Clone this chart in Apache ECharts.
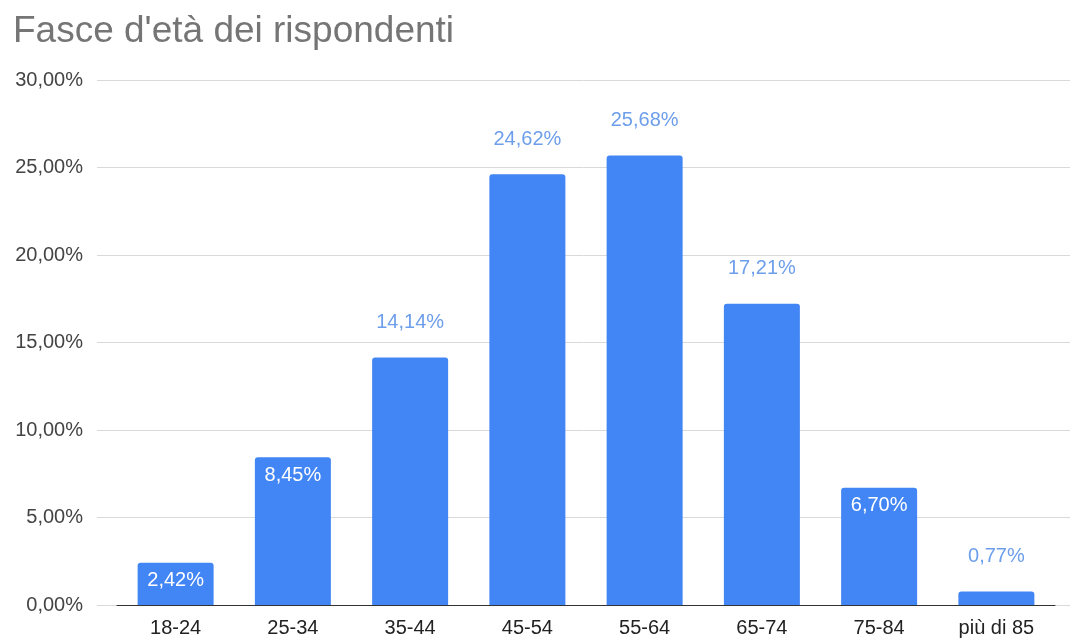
<!DOCTYPE html>
<html><head><meta charset="utf-8">
<script src="https://cdn.jsdelivr.net/npm/echarts@6/dist/echarts.min.js"></script>
<style>html,body{margin:0;padding:0;background:#fff}#c{width:1070px;height:639px}</style>
</head><body><div id="c"></div>
<script>
const categories = ['18-24','25-34','35-44','45-54','55-64','65-74','75-84','più di 85'];
const values = [2.42, 8.45, 14.14, 24.62, 25.68, 17.21, 6.70, 0.77];
const labelInside = [true, true, false, false, false, false, true, false];
const fmt = v => v.toFixed(2).replace('.', ',') + '%';
const font = 'Arial, "Liberation Sans", sans-serif';
const chart = echarts.init(document.getElementById('c'));
chart.setOption({
  animation: false,
  title: { text: "Fasce d'età dei rispondenti", left: 8, top: 8,
    textStyle: { fontFamily: font, fontSize: 37, fontWeight: 'normal', color: '#757575' } },
  grid: [
    { left: 97, right: 0, top: 80, bottom: 34 },
    { left: 117, right: 15, top: 80, bottom: 34 }
  ],
  xAxis: [
    { gridIndex: 0, type: 'value', show: false, min: 0, max: 1 },
    { gridIndex: 1, type: 'category', data: categories,
      axisLine: { lineStyle: { color: '#333', width: 1 } }, axisTick: { show: false },
      axisLabel: { color: '#222', fontFamily: font, fontSize: 20, margin: 13 } }
  ],
  yAxis: [
    { gridIndex: 0, type: 'value', min: 0, max: 30, interval: 5,
      axisLine: { show: false }, axisTick: { show: false },
      splitLine: { lineStyle: { color: '#d9d9d9' } },
      axisLabel: { formatter: v => fmt(v), color: '#444', fontFamily: font, fontSize: 20, margin: 14 } },
    { gridIndex: 1, type: 'value', min: 0, max: 30, interval: 5, show: false, splitLine: { show: false } }
  ],
  series: [{
    type: 'bar', xAxisIndex: 1, yAxisIndex: 1,
    barWidth: 76,
    itemStyle: { color: '#4285f4', borderRadius: [3, 3, 0, 0] },
    data: values.map((v, i) => ({
      value: v,
      label: labelInside[i]
        ? { show: true, position: 'insideTop', distance: 8, color: '#ffffff' }
        : { show: true, position: 'top', distance: 25, color: '#6d9eeb' }
    })),
    label: { show: true, formatter: p => fmt(p.value), fontFamily: font, fontSize: 20 }
  }]
});
</script></body></html>
